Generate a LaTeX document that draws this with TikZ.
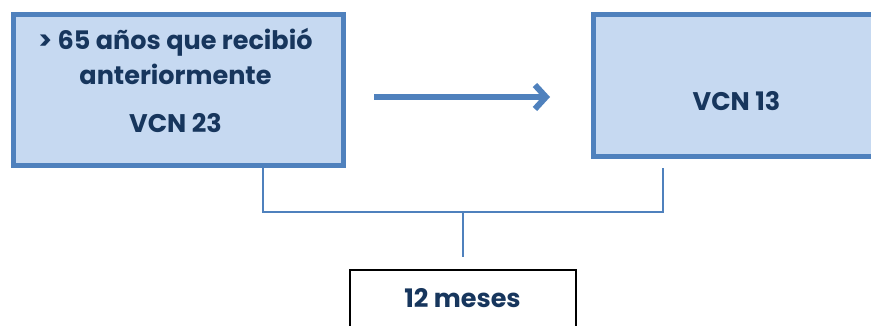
\documentclass[tikz,border=0pt]{standalone}
\usepackage{fontspec}
\setmainfont{Poppins}
\usetikzlibrary{arrows.meta}
\definecolor{boxfill}{HTML}{C6D9F1}
\definecolor{boxline}{HTML}{4F81BD}
\definecolor{txtcol}{HTML}{17365D}
\begin{document}
\begin{tikzpicture}[x=1pt,y=-1pt,
  bluebox/.style={draw=boxline, fill=boxfill, line width=5pt, rectangle, inner sep=0pt, anchor=north west},
  plainbox/.style={draw=black, fill=white, line width=2pt, rectangle, inner sep=0pt, anchor=north west},
  lbl/.style={text=txtcol, font=\fontsize{25.5}{30}\selectfont\bfseries, inner sep=0pt, anchor=base},
  bracket/.style={draw=boxline, line width=2pt},
  flow/.style={draw=boxline, line width=6pt, -{Straight Barb[length=11pt,width=24pt]}}]
\useasboundingbox (0,0) rectangle (871,326);
\clip (0,0) rectangle (871,326);
% boxes
\node[bluebox, minimum width=330pt, minimum height=151pt] (L) at (10.5,12.5) {};
\node[bluebox, minimum width=400pt, minimum height=142pt] (R) at (590.5,12.5) {};
\node[plainbox, minimum width=226pt, minimum height=80pt] (M) at (349,269) {};
% labels
\node[lbl] (l1) at (175.5,50) {> 65 años que recibió};
\node[lbl] (l2) at (175.5,85) {anteriormente};
\node[lbl] (l3) at (175.5,133) {VCN 23};
\node[lbl] (r1) at (736.5,111) {VCN 13};
\node[lbl] (m1) at (462.5,307) {12 meses};
% arrow between the boxes
\coordinate (a1) at (374,97);
\coordinate (a2) at (550,97);
\draw[flow] (a1) -- (a2);
% bracket joining both boxes to the period box
\coordinate (bl) at (263,168);
\coordinate (br) at (663,168);
\coordinate (bm) at (463,212);
\coordinate (bt) at (463,257);
\draw[bracket] (bl) |- (bm) -| (br);
\draw[bracket] (bm) -- (bt);
\end{tikzpicture}
\end{document}
